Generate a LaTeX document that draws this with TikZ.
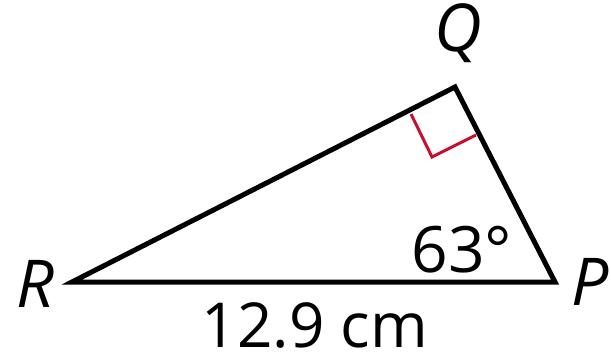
\documentclass[tikz,border=0pt]{standalone}
\usepackage{fontspec}
\setmainfont{Open Sans}
\begin{document}
\begin{tikzpicture}[x=1pt,y=-1pt,
  lbl/.style={inner sep=0pt,font=\fontsize{64}{64}\selectfont},
  vlbl/.style={inner sep=0pt,font=\fontsize{66}{66}\selectfont\itshape},
  side/.style={line width=5pt,line join=miter},
  rmark/.style={line width=3pt,draw={rgb,255:red,200;green,16;blue,46}}]
\useasboundingbox (0,0) rectangle (611,360);
\coordinate (R) at (72,282);
\coordinate (P) at (555,282);
\coordinate (Q) at (455,87);
\coordinate (m1) at (411,114);
\coordinate (m2) at (432,157);
\coordinate (m3) at (476,135);
\draw[rmark] (m1) -- (m2) -- (m3);
\draw[side] (R) -- (P) -- (Q) -- cycle;
\node[vlbl] (q) at (458,33) {Q};
\node[vlbl] (r) at (35,284) {R};
\node[vlbl] (p) at (590,282) {P};
\node[lbl] (ang) at (462,250) {63°};
\node[lbl,font=\fontsize{62}{62}\selectfont] (len) at (315,325) {12.9 cm};
\end{tikzpicture}
\end{document}
